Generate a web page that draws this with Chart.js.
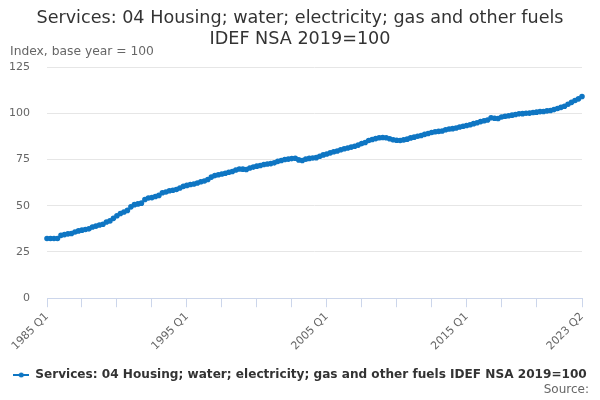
<!DOCTYPE html>
<html>
<head>
<meta charset="utf-8">
<script src="https://cdn.jsdelivr.net/npm/chart.js@4"></script>
<style>
  html, body { margin: 0; padding: 0; background: #fff; }
</style>
</head>
<body>
<canvas id="chart" width="600" height="400"></canvas>
<script>
// Quarterly index, 1985 Q1 to 2023 Q2 (2019=100)
const years = [];
for (let y = 1985; y <= 2023; y++) years.push(y);

const seriesName = "Services: 04 Housing; water; electricity; gas and other fuels IDEF NSA 2019=100";

// values, one row per year
const values = [
    32.3, 32.3, 32.3, 32.3,     // 1985
    34.0, 34.4, 34.8, 35.0,     // 1986
    35.8, 36.4, 36.8, 37.2,     // 1987
    37.5, 38.5, 39.0, 39.6,     // 1988
    40.0, 41.2, 41.8, 43.2,     // 1989
    44.6, 45.8, 46.6, 47.5,     // 1990
    49.4, 50.6, 51.0, 51.4,     // 1991
    53.4, 54.2, 54.4, 55.0,     // 1992
    55.6, 57.0, 57.4, 58.1,     // 1993
    58.4, 58.8, 59.6, 60.5,     // 1994
    61.0, 61.5, 61.8, 62.3,     // 1995
    63.0, 63.4, 64.2, 65.5,     // 1996
    66.3, 66.8, 67.2, 67.6,     // 1997
    68.1, 68.5, 69.3, 69.9,     // 1998
    69.8, 69.6, 70.4, 70.9,     // 1999
    71.4, 71.8, 72.3, 72.6,     // 2000
    72.8, 73.2, 74.0, 74.5,     // 2001
    75.0, 75.2, 75.5, 75.7,     // 2002
    74.8, 74.5, 75.2, 75.6,     // 2003
    75.8, 76.0, 76.8, 77.5,     // 2004
    78.0, 78.6, 79.2, 79.6,     // 2005
    80.3, 80.8, 81.2, 81.7,     // 2006
    82.2, 82.8, 83.6, 84.2,     // 2007
    85.3, 85.8, 86.3, 86.8,     // 2008
    86.9, 86.8, 86.2, 85.7,     // 2009
    85.4, 85.3, 85.6, 86.0,     // 2010
    86.7, 87.1, 87.6, 88.0,     // 2011
    88.6, 89.1, 89.6, 90.0,     // 2012
    90.2, 90.4, 91.1, 91.5,     // 2013
    91.7, 92.0, 92.6, 93.0,     // 2014
    93.4, 93.8, 94.4, 94.9,     // 2015
    95.5, 96.0, 96.4, 97.6,     // 2016
    97.3, 97.2, 98.0, 98.4,     // 2017
    98.7, 99.0, 99.3, 99.7,     // 2018
    99.8, 100.0, 100.1, 100.4,  // 2019
    100.6, 100.9, 101.0, 101.3, // 2020
    101.5, 102.0, 102.6, 103.2, // 2021
    103.8, 104.9, 105.9, 106.9, // 2022
    107.8, 109.1                // 2023
];

// "1985 Q1" ... "2023 Q2"
const quarters = [];
years.forEach(y => {
    for (let q = 1; q <= 4; q++) {
        if (quarters.length < values.length) quarters.push(y + " Q" + q);
    }
});

const yTicks = [0, 25, 50, 75, 100, 125];

const lineColor = "#0f76c3";
const fontFamily = '"DejaVu Sans", Verdana, sans-serif';

// legend symbol: short line with a dot in the middle
function legendSymbol() {
    const c = document.createElement("canvas");
    c.width = 16;
    c.height = 8;
    const g = c.getContext("2d");
    g.strokeStyle = lineColor;
    g.lineWidth = 2;
    g.beginPath();
    g.moveTo(0, 4);
    g.lineTo(16, 4);
    g.stroke();
    g.fillStyle = lineColor;
    g.beginPath();
    g.arc(8, 4, 2.5, 0, Math.PI * 2);
    g.fill();
    return c;
}

// extra texts: axis title at top left and the source line
const extraText = {
    id: "extraText",
    afterDraw(chart) {
        const ctx = chart.ctx;
        ctx.save();
        ctx.fillStyle = "#666";
        ctx.textBaseline = "middle";
        ctx.font = "12.3px " + fontFamily;
        ctx.textAlign = "left";
        ctx.fillText("Index, base year = 100", 10, 52);
        ctx.font = "12px " + fontFamily;
        ctx.textAlign = "right";
        ctx.fillText("Source:", 589, 390);
        ctx.restore();
    }
};

const last = values.length - 1;

new Chart(document.getElementById("chart"), {
    type: "line",
    data: {
        labels: quarters,
        datasets: [{
            label: seriesName,
            data: values,
            borderColor: lineColor,
            backgroundColor: lineColor,
            borderWidth: 2,
            pointRadius: 1.8,
            pointHoverRadius: 3,
            tension: 0
        }]
    },
    options: {
        responsive: false,
        animation: false,
        devicePixelRatio: 1,
        layout: { padding: { left: 10, right: 10, top: 0, bottom: 9 } },
        plugins: {
            title: {
                display: true,
                text: ["Services: 04 Housing; water; electricity; gas and other fuels", "IDEF NSA 2019=100"],
                color: "#333",
                font: { family: fontFamily, size: 17.6, weight: "normal", lineHeight: 1.2 },
                padding: { top: 7.5, bottom: 17.3 }
            },
            legend: {
                position: "bottom",
                labels: {
                    color: "#333",
                    font: { family: fontFamily, size: 12.1, weight: "bold" },
                    usePointStyle: true,
                    pointStyleWidth: 16,
                    padding: 10,
                    generateLabels: chart => [{
                        text: seriesName,
                        pointStyle: legendSymbol(),
                        fontColor: "#333",
                        fillStyle: lineColor,
                        strokeStyle: lineColor,
                        lineWidth: 0,
                        datasetIndex: 0
                    }]
                }
            },
            tooltip: { enabled: false }
        },
        scales: {
            x: {
                offset: false,
                border: { color: "#ccd6eb" },
                grid: {
                    display: true,
                    drawOnChartArea: false,
                    drawTicks: true,
                    tickLength: 9,
                    color: "#ccd6eb"
                },
                afterFit: scale => { scale.height += 3; },
                ticks: {
                    autoSkip: false,
                    minRotation: 45,
                    maxRotation: 45,
                    color: "#666",
                    font: { family: fontFamily, size: 11 },
                    callback: function (val, idx) {
                        if (idx === last || idx % 40 === 0) return quarters[idx];
                        if (idx % 10 === 0 && idx <= 140) return "";
                        return null;
                    }
                }
            },
            y: {
                min: 0,
                max: 125,
                afterBuildTicks: scale => {
                    scale.ticks = yTicks.map(v => ({ value: v }));
                },
                afterFit: scale => { scale.width = 37; },
                border: { display: false },
                grid: { color: "#e6e6e6", drawTicks: false },
                ticks: {
                    color: "#666",
                    padding: 17,
                    font: { family: fontFamily, size: 11 }
                }
            },
            // empty right-hand strip so the plot ends where the reference does
            yRight: {
                position: "right",
                min: 0,
                max: 125,
                afterFit: scale => { scale.width = 8; },
                border: { display: false },
                grid: { display: false },
                ticks: { display: false }
            }
        }
    },
    plugins: [extraText]
});
</script>
</body>
</html>
